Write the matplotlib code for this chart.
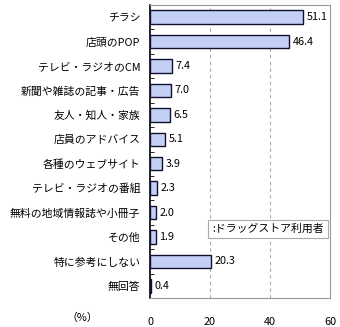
import matplotlib
matplotlib.use('Agg')
import matplotlib.pyplot as plt
import numpy as np

plt.rcParams['font.family'] = ['Noto Sans CJK JP', 'DejaVu Sans']

categories = ['チラシ', '店頭のPOP', 'テレビ・ラジオのCM', '新聞や雑誌の記事・広告',
              '友人・知人・家族', '店員のアドバイス', '各種のウェブサイト',
              'テレビ・ラジオの番組', '無料の地域情報誌や小冊子', 'その他',
              '特に参考にしない', '無回答']
values = [51.1, 46.4, 7.4, 7.0, 6.5, 5.1, 3.9, 2.3, 2.0, 1.9, 20.3, 0.4]
xticks = [0, 20, 40, 60]

fig = plt.figure(figsize=(3.4, 3.27), dpi=100)
ax = fig.add_axes([150/340, 1 - 298/327, 180/340, 293/327])

y = np.arange(len(categories))
ax.barh(y, values, height=0.55, color='#c3cff5', edgecolor='#101030', linewidth=1.0, zorder=3)
for yi, v in zip(y, values):
    ax.text(v + 1.2, yi, f'{v:.1f}', va='center', ha='left', fontsize=7.8, zorder=4)

ax.set_ylim(len(categories) - 0.5, -0.5)
ax.set_xlim(0, 60)
ax.set_xticks(xticks)
ax.set_xticklabels([str(t) for t in xticks], fontsize=7.8)
ax.tick_params(axis='x', length=0, pad=14)
ax.set_yticks(y)
ax.set_yticklabels(categories, fontsize=7.8)
ax.set_yticks(np.arange(len(categories) + 1) - 0.5, minor=True)
ax.tick_params(axis='y', which='major', length=0, pad=7)
ax.tick_params(axis='y', which='minor', length=3, direction='in', color='black')

for t in [20, 40]:
    ax.axvline(t, color='#aaaaaa', linestyle=(0, (3, 3)), linewidth=0.8, zorder=1)

for s in ['top', 'right', 'bottom']:
    ax.spines[s].set_color('#999999')
ax.spines['left'].set_color('black')
ax.spines['left'].set_linewidth(1.2)

ax.text(-0.375, -0.068, '（%）', transform=ax.transAxes, fontsize=7.8, ha='center', va='center')

ax.text(0.345, 0.235, ':ドラッグストア利用者', transform=ax.transAxes, fontsize=7.8,
        ha='left', va='center',
        bbox=dict(boxstyle='square,pad=0.35', facecolor='white', edgecolor='#aaaaaa', linewidth=0.8),
        zorder=5)

fig.savefig('out.png', dpi=100)
